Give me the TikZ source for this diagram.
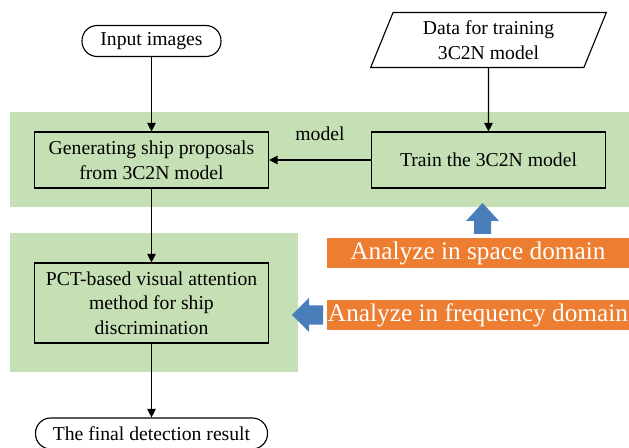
\documentclass[tikz,border=0pt]{standalone}
\usepackage{fontspec}
\setmainfont{Liberation Serif}
\usetikzlibrary{shapes.geometric,arrows.meta}
\definecolor{bandgreen}{RGB}{197,224,180}
\definecolor{tagorange}{RGB}{237,125,49}
\definecolor{hintblue}{RGB}{74,126,187}
\tikzset{band/.style={fill=bandgreen},
	termbox/.style={
		draw,
		line width=0.8pt,
		rounded corners=0.38cm,
		minimum width=3.475cm,
		minimum height=0.775cm,
		inner sep=1pt},
	procbox/.style={
		draw,
		line width=0.8pt,
		align=center,
		minimum width=5.85cm,
		minimum height=1.4cm},
	databox/.style={
		trapezium,
		trapezium left angle=71,
		trapezium right angle=109,
		trapezium stretches=true,
		draw,
		fill=white,
		line width=0.8pt,
		align=center,
		minimum width=5.9cm,
		minimum height=1.375cm},
	tagbox/.style={
		fill=tagorange,
		text=white,
		font=\fontsize{18}{20}\selectfont,
		inner sep=0pt,
		minimum width=7.55cm,
		minimum height=0.75cm},
	flow/.style={line width=0.8pt,-{Triangle[width=6pt,length=6pt]}}
	}

\begin{document}
\begin{tikzpicture}[font=\fontsize{14}{17.5}\selectfont]
	\useasboundingbox (0,0) rectangle (15.725,11.2);
	\fill[band] (0.25,6.025) rectangle (15.725,8.4);
	\fill[band] (0.25,1.9) rectangle (7.45,5.375);
	\node [termbox] (input) at (3.7875,10.175) {Input images};
	\node [databox] (data) at (12.2125,10.2) {Data for training\\3C2N model};
	\node [procbox] (gen) at (3.7875,7.2) {Generating ship proposals\\from 3C2N model};
	\node [procbox] (train) at (12.2125,7.2) {Train the 3C2N model};
	\node [procbox, minimum height=2cm] (pct) at (3.7875,3.625) {PCT-based visual attention\\method for ship\\discrimination};
	\node [termbox, minimum width=5.8cm] (result) at (3.7875,0.3625) {The final detection result};
	\node [tagbox] (space) at (11.95,4.875) {Analyze in space domain};
	\node [tagbox] (freq) at (11.95,3.325) {Analyze in frequency domain};
	\draw[flow] (input) -- (gen);
	\draw[flow] (data.south) -- (train.north);
	\draw[flow] (train) -- node[above=0.35cm] (lbl) {model} (gen);
	\draw[flow] (gen) -- (pct);
	\draw[flow] (pct) -- (result);
	% block arrows
	\fill[hintblue] (11.85,5.35) -- (11.85,5.675) -- (11.65,5.675) -- (12.0625,6.125)
		-- (12.475,5.675) -- (12.275,5.675) -- (12.275,5.35) -- cycle;
	\fill[hintblue] (8.075,3.085) -- (7.725,3.085) -- (7.725,2.9) -- (7.3,3.325)
		-- (7.725,3.75) -- (7.725,3.565) -- (8.075,3.565) -- cycle;
\end{tikzpicture}
\end{document}
